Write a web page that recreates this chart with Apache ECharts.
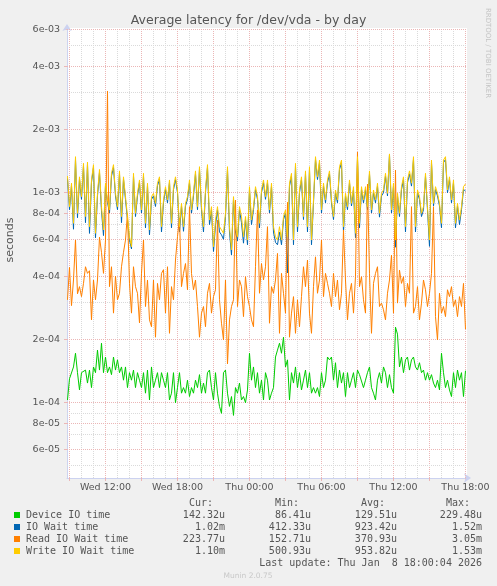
<!DOCTYPE html>
<html><head><meta charset="utf-8">
<script src="https://cdn.jsdelivr.net/npm/echarts@6/dist/echarts.min.js"></script>
<style>html,body{margin:0;padding:0;background:#f0f0f0;}#c{width:497px;height:586px;}</style>
</head><body><div id="c"></div>
<script>
// time grid: hours since Wed 00:00, one sample every 10 minutes
const startHour = 8 + 50/60;
const stepHours = 10/60;

// values in microseconds
const deviceIoTime = [
103,130,128,148,172,139,115,139,136,143,124,143,118,148,139,178,143,192,139,165,
139,148,136,165,143,160,139,148,128,148,118,139,128,143,118,139,128,118,139,111,
143,103,148,118,128,139,118,139,128,118,139,103,
111,139,100,118,139,111,118,111,128,107,118,111,128,118,136,111,124,111,139,143,
118,103,139,111,96,89,139,143,111,96,107,87,118,111,124,103,107,100,115,172,
128,148,118,139,111,128,103,139,
128,103,111,118,165,178,192,172,205,148,160,103,139,124,148,118,139,115,128,143,
118,139,111,118,111,118,107,139,118,128,165,160,165,128,155,118,143,124,139,107,
139,118,128,139,118,143,136,139,118,128,139,148,
118,111,103,128,139,124,148,139,118,136,118,111,229,212,148,165,139,160,165,143,
160,165,148,143,155,139,143,128,139,128,136,124,118,128,115,172,139,118,128,115,
107,139,118,143,128,139,107,142
];
const ioWaitTime = [
1170,830,1080,670,1440,760,1160,930,1340,720,1360,640,1120,1320,610,965,1250,820,625,1080,
900,800,1200,1320,965,830,1230,720,1160,930,745,595,540,1200,770,965,1120,800,1200,680,
1080,630,930,965,860,1080,1160,650,895,1040,895,1120,
680,1035,1155,1000,650,865,655,865,930,1115,800,965,1230,830,1290,830,650,1000,1320,705,
830,525,700,830,650,630,600,770,1290,650,505,930,650,590,830,720,575,745,565,1035,
705,830,1035,930,680,1000,1115,930,
1115,800,1075,650,580,565,650,565,745,800,415,1075,1200,565,1340,650,1000,1155,745,1230,
650,1290,565,895,1440,1155,1390,800,1075,895,1115,1230,895,745,1000,895,1290,1390,650,965,
830,1115,865,1035,610,1440,680,1035,895,1035,830,1230,
800,1000,895,1075,765,965,1000,1200,965,1520,800,1075,550,965,770,1035,1155,650,1115,1230,
1075,1440,650,1000,930,770,830,1200,830,555,1390,865,1035,965,865,680,1390,1440,1000,1155,
895,1115,680,865,705,830,1035,1020
];
const readIoWaitTime = [
309,441,290,384,595,330,357,320,370,444,413,425,248,384,309,384,614,520,413,595,
3050,357,444,267,400,309,332,444,520,595,800,370,267,444,357,332,240,413,595,287,
384,248,230,384,205,370,309,413,430,267,444,214,
357,309,478,617,758,357,413,460,345,858,413,345,384,287,205,267,287,230,332,370,
267,320,345,741,309,239,199,384,153,248,287,309,923,287,384,357,257,398,320,287,
248,230,444,828,332,460,384,444,
689,239,357,332,384,514,214,413,332,267,900,205,267,320,214,309,230,320,444,357,
478,267,214,357,495,332,384,595,320,413,370,332,287,413,320,384,277,332,665,384,
248,332,370,267,398,1560,357,398,309,267,1100,413,
214,370,413,444,287,298,277,248,332,384,505,267,1280,298,428,370,398,287,370,332,
858,267,287,357,248,298,384,345,287,332,413,858,257,199,332,267,287,257,345,320,
357,287,309,257,320,287,370,224
];
const writeIoWaitTime = [
1200,858,1110,715,1484,798,1190,958,1380,770,1400,689,1150,1360,641,993,1290,858,665,1110,
923,828,1237,1360,993,858,1270,770,1190,958,770,617,553,1237,798,993,1150,828,1237,715,
1110,665,958,993,890,1110,1190,689,923,1068,923,1150,
715,1068,1190,1030,689,890,689,890,958,1150,828,993,1270,858,1330,858,689,1030,1360,741,
858,553,741,858,689,665,641,798,1330,689,535,958,689,617,858,770,617,770,595,1068,
741,858,1068,958,715,1030,1150,958,
1150,828,1110,689,617,595,689,595,770,828,617,1110,1237,595,1380,689,1030,1190,770,1270,
689,1330,595,923,1484,1190,1430,828,1110,923,1150,1270,923,770,1030,923,1330,1430,689,993,
858,1150,890,1068,641,1484,715,1068,923,1068,858,1270,
828,1030,923,1110,798,993,1030,1237,993,1530,828,1110,595,993,798,1068,1190,689,1150,1270,
1110,1484,689,1030,958,798,858,1237,858,595,1430,890,1068,993,890,715,1430,1484,1030,1190,
923,1150,715,890,741,858,1068,1100
];

const xTickHours = [12,18,24,30,36,42];
const xTickLabels = ['Wed 12:00','Wed 18:00','Thu 00:00','Thu 06:00','Thu 12:00','Thu 18:00'];
const yTickValues = [6e-5,8e-5,1e-4,2e-4,4e-4,6e-4,8e-4,1e-3,2e-3,4e-3,6e-3];
const yTickLabels = ['6e-05','8e-05','1e-04','2e-04','4e-04','6e-04','8e-04','1e-03','2e-03','4e-03','6e-03'];
const yMinorValues = [5e-5,7e-5,9e-5,3e-4,5e-4,7e-4,9e-4,3e-3,5e-3];

const seriesNames = ['Device IO time','IO Wait time','Read IO Wait time','Write IO Wait time'];
const seriesColors = ['#00cc00','#0066b3','#ff8000','#ffcc00'];
const curLabels = ['142.32u','1.02m','223.77u','1.10m'];
const minLabels = ['86.41u','412.33u','152.71u','500.93u'];
const avgLabels = ['129.51u','923.42u','370.93u','953.82u'];
const maxLabels = ['229.48u','1.52m','3.05m','1.53m'];
const lastUpdate = 'Last update: Thu Jan  8 18:00:04 2026';

const allSeries = [deviceIoTime, ioWaitTime, readIoWaitTime, writeIoWaitTime];
const lg = v => Math.log10(v);
const xMin = 8.792, xMax = xMin + 400/12;
const yMin = -4.3586, yMax = -2.2157;

const majorColor = '#ebb6b6', minorColor = '#dadada';
const dots = [1,1];
const gridLines = [];
for (let h = 9; h <= 42; h++) {
  gridLines.push({xAxis: h, lineStyle: {color: h % 3 === 0 ? majorColor : minorColor, type: dots, width: 1}});
}
yTickValues.forEach(v => gridLines.push({yAxis: lg(v), lineStyle: {color: majorColor, type: dots, width: 1}}));
yMinorValues.forEach(v => gridLines.push({yAxis: lg(v), lineStyle: {color: minorColor, type: dots, width: 1}}));

const series = [{
  type: 'line', data: [], silent: true, z: 1,
  markLine: {silent: true, symbol: ['none','none'], label: {show: false}, animation: false, data: gridLines}
}];
allSeries.forEach((arr, k) => {
  series.push({
    name: seriesNames[k], type: 'line', showSymbol: false, symbol: 'none', z: 10 + k,
    lineStyle: {color: seriesColors[k], width: 1}, itemStyle: {color: seriesColors[k]},
    animation: false,
    data: arr.map((v, i) => [startHour + i * stepHours, lg(v * 1e-6)])
  });
});

const mono = '"DejaVu Sans Mono", monospace';
const txtColor = '#555';
const graphic = [];
const rowY = [515, 527, 539, 551];
const colRight = [225, 311, 397, 482];
const heads = ['Cur:', 'Min:', 'Avg:', 'Max:'];
heads.forEach((h, c) => graphic.push({type: 'text', x: colRight[c] - 12, y: 503,
  style: {text: h, font: '10px ' + mono, fill: txtColor, align: 'right', verticalAlign: 'middle'}}));
const cols = [curLabels, minLabels, avgLabels, maxLabels];
seriesNames.forEach((n, r) => {
  graphic.push({type: 'rect', shape: {x: 14, y: rowY[r] - 3, width: 6, height: 6}, style: {fill: seriesColors[r]}});
  graphic.push({type: 'text', x: 26, y: rowY[r], style: {text: n, font: '10px ' + mono, fill: txtColor, verticalAlign: 'middle'}});
  cols.forEach((col, c) => graphic.push({type: 'text', x: colRight[c], y: rowY[r],
    style: {text: col[r], font: '10px ' + mono, fill: txtColor, align: 'right', verticalAlign: 'middle'}}));
});
graphic.push({type: 'text', x: 482, y: 563, style: {text: lastUpdate, font: '10px ' + mono, fill: txtColor, align: 'right', verticalAlign: 'middle'}});
graphic.push({type: 'text', x: 248, y: 576, style: {text: 'Munin 2.0.75', font: '7.5px "DejaVu Sans"', fill: '#c8c8c8', align: 'center', verticalAlign: 'middle'}});
graphic.push({type: 'text', x: 488, y: 53, rotation: -Math.PI/2, style: {text: 'RRDTOOL / TOBI OETIKER', font: '7px "DejaVu Sans"', fill: '#c4c4c4', align: 'center', verticalAlign: 'middle'}});
graphic.push({type: 'text', x: 10, y: 240, rotation: Math.PI/2, style: {text: 'seconds', font: '11px "DejaVu Sans"', fill: txtColor, align: 'center', verticalAlign: 'middle'}});

const chart = echarts.init(document.getElementById('c'));
chart.setOption({
  backgroundColor: '#f0f0f0',
  animation: false,
  title: {text: 'Average latency for /dev/vda - by day', left: 'center', top: 9,
    textStyle: {fontFamily: 'DejaVu Sans', fontSize: 12.5, fontWeight: 'normal', color: '#555'}},
  grid: {left: 67, top: 28, width: 400, height: 450, show: true, backgroundColor: '#ffffff', borderWidth: 0},
  xAxis: {type: 'value', min: xMin, max: xMax,
    axisLine: {show: true, lineStyle: {color: '#ccd2f0', width: 1}, symbol: ['none','arrow'], symbolSize: [7,7], symbolOffset: [0, 4]},
    axisTick: {show: true, customValues: [9,12,15,18,21,24,27,30,33,36,39,42], length: 3, lineStyle: {color: majorColor}},
    splitLine: {show: false},
    axisLabel: {customValues: xTickHours, margin: 5, fontFamily: 'DejaVu Sans', fontSize: 9.5, color: txtColor,
      formatter: v => { const k = xTickHours.findIndex(h => Math.abs(h - v) < 1e-6); return k >= 0 ? xTickLabels[k] : ''; }}},
  yAxis: {type: 'value', min: yMin, max: yMax,
    axisLine: {show: true, lineStyle: {color: '#ccd2f0', width: 1}, symbol: ['none','arrow'], symbolSize: [7,7], symbolOffset: [0, 4]},
    axisTick: {show: true, customValues: yTickValues.map(lg), length: 3, lineStyle: {color: majorColor}},
    splitLine: {show: false},
    axisLabel: {customValues: yTickValues.map(lg), margin: 7, fontFamily: 'DejaVu Sans', fontSize: 9.5, color: txtColor,
      formatter: v => { const k = yTickValues.findIndex(t => Math.abs(lg(t) - v) < 1e-6); return k >= 0 ? yTickLabels[k] : ''; }}},
  series: series,
  graphic: graphic
});
</script></body></html>
